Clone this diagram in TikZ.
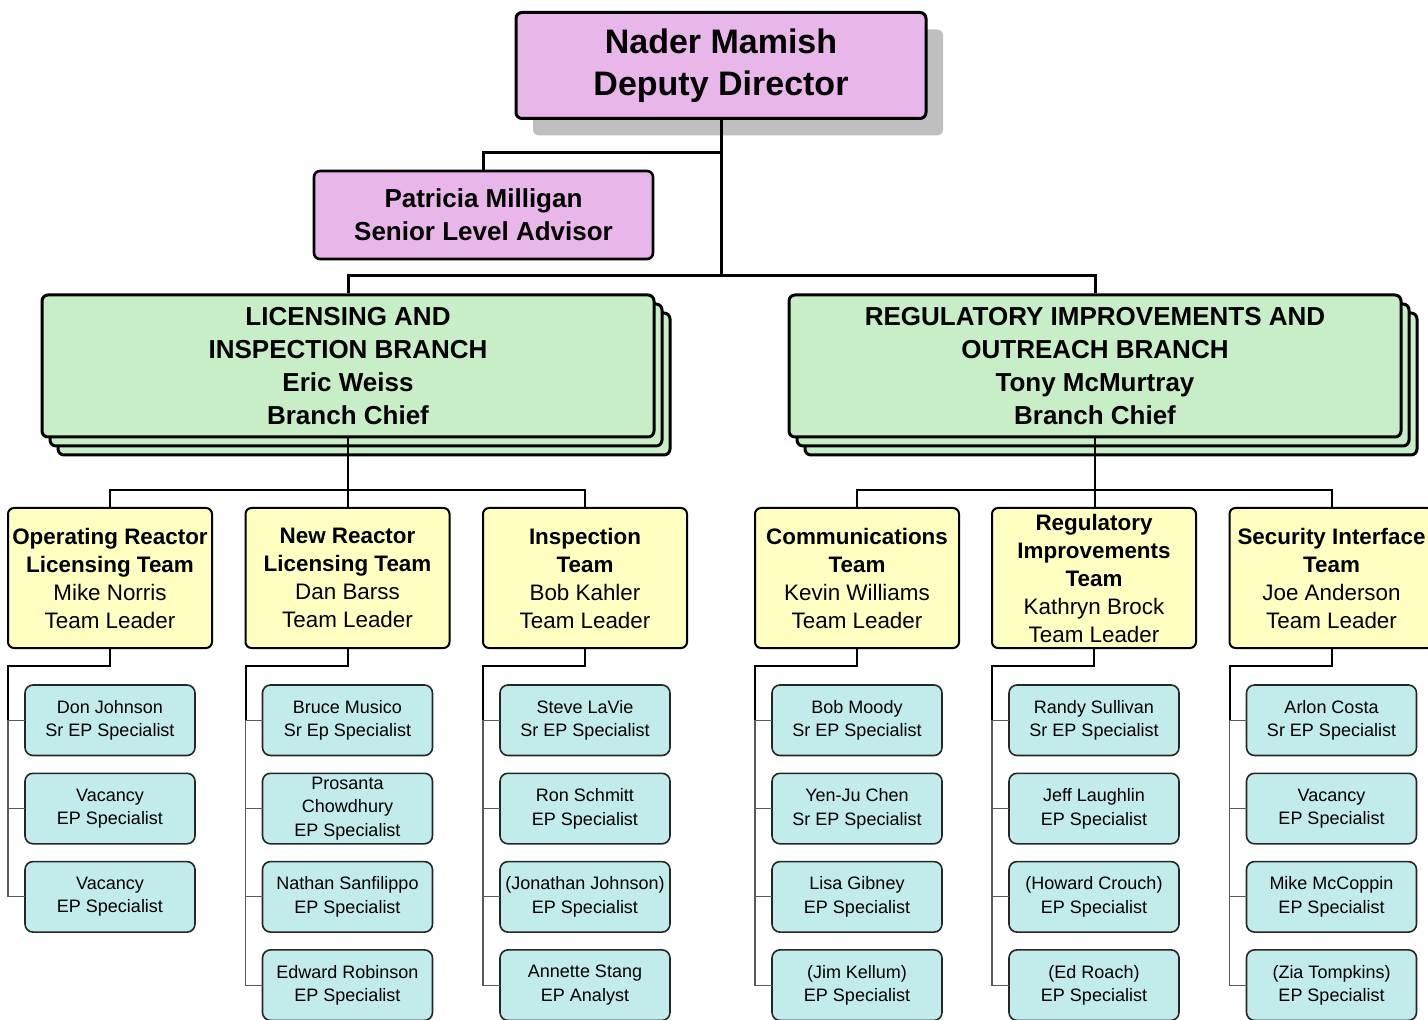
\documentclass[tikz,border=0pt]{standalone}
\usepackage{fontspec}
\setmainfont{Liberation Sans}
\usepackage{xcolor}
\usetikzlibrary{positioning, shadows}

\definecolor{chiefpink}{RGB}{232,182,232}
\definecolor{branchgreen}{RGB}{200,238,200}
\definecolor{teamyellow}{RGB}{255,255,194}
\definecolor{staffcyan}{RGB}{194,236,236}

\begin{document}
\begin{tikzpicture}[
				x=0.5pt, y=-0.5pt,
				node distance=8.9pt,
				% Defining node styles
				director/.style={rectangle, rounded corners=3pt, draw=black, line width=1.5pt, fill=chiefpink, align=center, minimum width=205pt, minimum height=53pt, inner sep=1pt, font=\fontsize{17}{21}\selectfont\bfseries, drop shadow={shadow xshift=8.5pt, shadow yshift=-8.5pt, fill=black!25, opacity=1}},
				advisor/.style={rectangle, rounded corners=3pt, draw=black, line width=1.3pt, fill=chiefpink, align=center, minimum width=169.5pt, minimum height=44pt, inner sep=1pt, font=\fontsize{13}{16.5}\selectfont\bfseries},
				branch/.style={rectangle, rounded corners=3pt, draw=black, line width=1.5pt, fill=branchgreen, align=center, minimum width=306pt, minimum height=71pt, inner sep=1pt, font=\fontsize{13}{16.5}\selectfont\bfseries, double copy shadow={shadow xshift=4pt, shadow yshift=-4.5pt}},
				team/.style={rectangle, rounded corners=3pt, draw=black, line width=1pt, fill=teamyellow, align=center, minimum width=102pt, minimum height=70pt, inner sep=1pt, outer sep=0pt, font=\fontsize{11.2}{14}\selectfont},
				staff/.style={rectangle, rounded corners=4pt, draw=black!85, line width=0.8pt, fill=staffcyan, align=center, minimum width=85pt, minimum height=35.25pt, inner sep=1pt, outer sep=0pt, font=\fontsize{9}{11.8}\selectfont},
				trunk/.style={line width=1.5pt, draw=black},
				link/.style={line width=1pt, draw=black},
				stub/.style={line width=0.6pt, draw=black!65}
			]
			\useasboundingbox (0,0) rectangle (1428,1020);

			% Placing the office heads
			\node[director] (DD) at (721,65.5) {Nader Mamish\\Deputy Director};
			\node[advisor] (SLA) at (483.5,215) {Patricia Milligan\\Senior Level Advisor};

			% Placing the branches
			\node[branch] (LIB) at (348,366) {LICENSING AND\\INSPECTION BRANCH\\Eric Weiss\\Branch Chief};
			\node[branch] (RIOB) at (1095,366) {REGULATORY IMPROVEMENTS AND\\OUTREACH BRANCH\\Tony McMurtray\\Branch Chief};

			% Placing the teams
			\node[team] (ORLT) at (110,578) {\textbf{Operating Reactor}\\\textbf{Licensing Team}\\Mike Norris\\Team Leader};
			\node[team] (NRLT) at (347.5,578) {\textbf{New Reactor}\\\textbf{Licensing Team}\\Dan Barss\\Team Leader};
			\node[team] (IT) at (585,578) {\textbf{Inspection}\\\textbf{Team}\\Bob Kahler\\Team Leader};
			\node[team] (CT) at (857,578) {\textbf{Communications}\\\textbf{Team}\\Kevin Williams\\Team Leader};
			\node[team] (RIT) at (1094,578) {\textbf{Regulatory}\\\textbf{Improvements}\\\textbf{Team}\\Kathryn Brock\\Team Leader};
			\node[team] (SIT) at (1331.5,578) {\textbf{Security Interface}\\\textbf{Team}\\Joe Anderson\\Team Leader};

			% Placing the staff below each team
			\node[staff, below=18.5pt of ORLT] (or1) {Don Johnson\\Sr EP Specialist};
			\node[staff, below=of or1] (or2) {Vacancy\\EP Specialist};
			\node[staff, below=of or2] (or3) {Vacancy\\EP Specialist};

			\node[staff, below=18.5pt of NRLT] (nr1) {Bruce Musico\\Sr Ep Specialist};
			\node[staff, below=of nr1] (nr2) {Prosanta\\Chowdhury\\EP Specialist};
			\node[staff, below=of nr2] (nr3) {Nathan Sanfilippo\\EP Specialist};
			\node[staff, below=of nr3] (nr4) {Edward Robinson\\EP Specialist};

			\node[staff, below=18.5pt of IT] (in1) {Steve LaVie\\Sr EP Specialist};
			\node[staff, below=of in1] (in2) {Ron Schmitt\\EP Specialist};
			\node[staff, below=of in2] (in3) {(Jonathan Johnson)\\EP Specialist};
			\node[staff, below=of in3] (in4) {Annette Stang\\EP Analyst};

			\node[staff, below=18.5pt of CT] (co1) {Bob Moody\\Sr EP Specialist};
			\node[staff, below=of co1] (co2) {Yen-Ju Chen\\Sr EP Specialist};
			\node[staff, below=of co2] (co3) {Lisa Gibney\\EP Specialist};
			\node[staff, below=of co3] (co4) {(Jim Kellum)\\EP Specialist};

			\node[staff, below=18.5pt of RIT] (ri1) {Randy Sullivan\\Sr EP Specialist};
			\node[staff, below=of ri1] (ri2) {Jeff Laughlin\\EP Specialist};
			\node[staff, below=of ri2] (ri3) {(Howard Crouch)\\EP Specialist};
			\node[staff, below=of ri3] (ri4) {(Ed Roach)\\EP Specialist};

			\node[staff, below=18.5pt of SIT] (si1) {Arlon Costa\\Sr EP Specialist};
			\node[staff, below=of si1] (si2) {Vacancy\\EP Specialist};
			\node[staff, below=of si2] (si3) {Mike McCoppin\\EP Specialist};
			\node[staff, below=of si3] (si4) {(Zia Tompkins)\\EP Specialist};

			% Drawing the top connections
			\coordinate (advjoin) at (721,153);
			\coordinate (bus) at (721,276);
			\draw[trunk] (DD.south) -- (bus);
			\draw[trunk] (advjoin) -| (SLA.north);
			\draw[trunk] (LIB.north) |- (bus) -| (RIOB.north);

			% Drawing branch to team connections
			\draw[link] (LIB.south) -- (LIB.south |- NRLT.north);
			\draw[link] (ORLT.north) -- ++(0,-18) -| (IT.north);
			\draw[link] (RIOB.south) -- (RIOB.south |- RIT.north);
			\draw[link] (CT.north) -- ++(0,-18) -| (SIT.north);

			% Drawing team to staff connections
			\draw[link] (ORLT.south) -- ++(0,18) -| (ORLT.west |- or1.west);
			\draw[stub] (or1.west) -| (ORLT.west |- or3.west) -- (or3.west);
			\draw[stub] (or2.west) -- (ORLT.west |- or2.west);

			\draw[link] (NRLT.south) -- ++(0,18) -| (NRLT.west |- nr1.west);
			\draw[stub] (nr1.west) -| (NRLT.west |- nr4.west) -- (nr4.west);
			\draw[stub] (nr2.west) -- (NRLT.west |- nr2.west);
			\draw[stub] (nr3.west) -- (NRLT.west |- nr3.west);

			\draw[link] (IT.south) -- ++(0,18) -| (IT.west |- in1.west);
			\draw[stub] (in1.west) -| (IT.west |- in4.west) -- (in4.west);
			\draw[stub] (in2.west) -- (IT.west |- in2.west);
			\draw[stub] (in3.west) -- (IT.west |- in3.west);

			\draw[link] (CT.south) -- ++(0,18) -| (CT.west |- co1.west);
			\draw[stub] (co1.west) -| (CT.west |- co4.west) -- (co4.west);
			\draw[stub] (co2.west) -- (CT.west |- co2.west);
			\draw[stub] (co3.west) -- (CT.west |- co3.west);

			\draw[link] (RIT.south) -- ++(0,18) -| (RIT.west |- ri1.west);
			\draw[stub] (ri1.west) -| (RIT.west |- ri4.west) -- (ri4.west);
			\draw[stub] (ri2.west) -- (RIT.west |- ri2.west);
			\draw[stub] (ri3.west) -- (RIT.west |- ri3.west);

			\draw[link] (SIT.south) -- ++(0,18) -| (SIT.west |- si1.west);
			\draw[stub] (si1.west) -| (SIT.west |- si4.west) -- (si4.west);
			\draw[stub] (si2.west) -- (SIT.west |- si2.west);
			\draw[stub] (si3.west) -- (SIT.west |- si3.west);

		\end{tikzpicture}
\end{document}
